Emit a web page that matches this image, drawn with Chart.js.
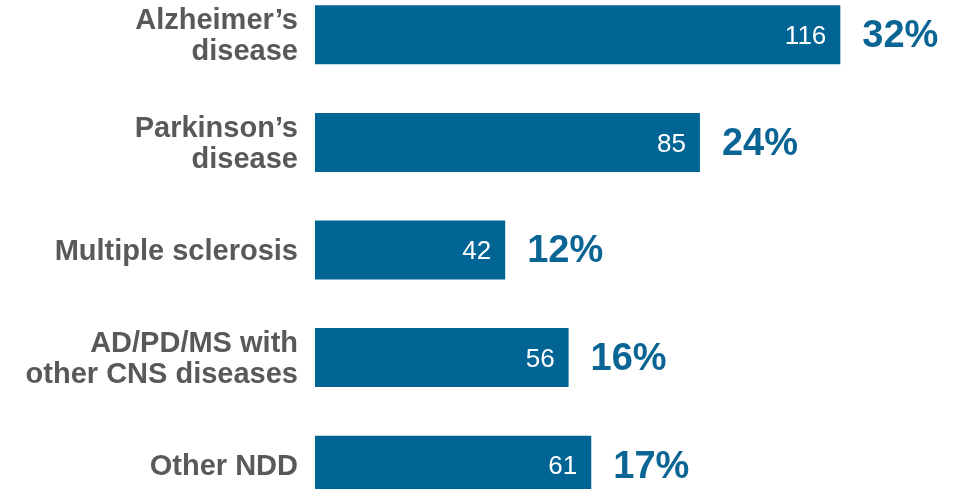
<!DOCTYPE html>
<html lang="en">
  <head>
    <meta charset="UTF-8" />
    <title>NDD cases</title>
    <script src="https://cdn.jsdelivr.net/npm/chart.js"></script>
    <style>
      html, body {
        margin: 0;
        padding: 0;
        background: #ffffff;
        overflow: hidden;
      }
      .wrap {
        position: absolute;
        left: 0;
        top: -19px;
        width: 956px;
        height: 538px;
      }
    </style>
  </head>
  <body>
    <div class="wrap">
      <canvas id="nddChart"></canvas>
    </div>

    <script>
      const categories = [
        ["Alzheimer\u2019s", "disease"],
        ["Parkinson\u2019s", "disease"],
        "Multiple sclerosis",
        ["AD/PD/MS with", "other CNS diseases"],
        "Other NDD",
      ];
      const counts = [116, 85, 42, 56, 61];
      const shares = ["32%", "24%", "12%", "16%", "17%"];

      const barBlue = "#006494";
      const fontFamily = "'Liberation Sans', Arial, sans-serif";

      // draws count inside the bar and share after it
      const barLabels = {
        id: "barLabels",
        afterDatasetsDraw(chart) {
          const ctx = chart.ctx;
          const meta = chart.getDatasetMeta(0);
          ctx.save();
          ctx.textBaseline = "middle";
          meta.data.forEach((bar, i) => {
            ctx.fillStyle = "#ffffff";
            ctx.font = "26px " + fontFamily;
            ctx.textAlign = "right";
            ctx.fillText(String(counts[i]), bar.x - 14, bar.y + 2);

            ctx.fillStyle = "#0b6594";
            ctx.font = "bold 38px " + fontFamily;
            ctx.textAlign = "left";
            ctx.fillText(shares[i], bar.x + 22, bar.y + 2);
          });
          ctx.restore();
        },
      };

      new Chart(document.getElementById("nddChart"), {
        type: "bar",
        data: {
          labels: categories,
          datasets: [
            {
              data: counts,
              backgroundColor: barBlue,
              borderWidth: 0,
              barPercentage: 0.548,
              categoryPercentage: 1,
            },
          ],
        },
        options: {
          indexAxis: "y",
          responsive: true,
          maintainAspectRatio: false,
          animation: false,
          layout: { padding: { left: 0, right: 7, top: 0, bottom: 0 } },
          plugins: {
            legend: { display: false },
            tooltip: { enabled: false },
          },
          scales: {
            x: {
              display: false,
              min: 0,
              max: 140,
            },
            y: {
              afterFit(scale) {
                scale.width = 315;
                scale.paddingTop = 0;
                scale.paddingBottom = 0;
              },
              border: { display: false },
              grid: { display: false, drawTicks: false },
              ticks: {
                padding: 17,
                labelOffset: 2,
                color: "#595959",
                font: {
                  family: fontFamily,
                  size: 29,
                  weight: "bold",
                  lineHeight: 1.07,
                },
              },
            },
          },
        },
        plugins: [barLabels],
      });
    </script>
  </body>
</html>
